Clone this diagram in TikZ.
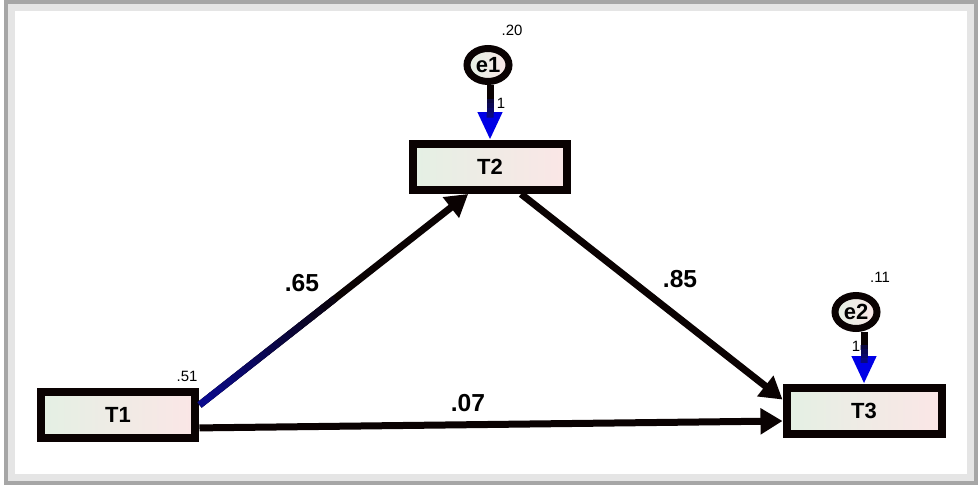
\documentclass[tikz,border=0pt]{standalone}
\usepackage{fontspec}
\setmainfont{Liberation Sans}
\usetikzlibrary{arrows.meta,calc,shapes.geometric}
\definecolor{Ink}{HTML}{0A0202}
\definecolor{Navy}{HTML}{0A0A8C}
\definecolor{Path}{HTML}{0000E6}
\definecolor{Mint}{HTML}{E4F0E4}
\definecolor{Blush}{HTML}{FBE6E6}

\begin{document}
\begin{tikzpicture}[
  x=0.02cm, y=-0.02cm,
  obs/.style={draw=Ink, line width=0.16cm, left color=Mint, right color=Blush,
              minimum width=3.1cm, minimum height=0.92cm, inner sep=0pt,
              font=\fontsize{12.5}{14}\selectfont\bfseries},
  err/.style={draw=Ink, line width=0.14cm, ellipse, left color=Mint, right color=Blush,
              minimum width=0.84cm, minimum height=0.66cm, inner sep=0pt,
              font=\fontsize{12.5}{14}\selectfont\bfseries},
  pth/.style={-{Triangle[length=0.44cm, width=0.5cm]}, draw=Ink, line width=0.14cm},
  ept/.style={-{Triangle[length=0.56cm, width=0.46cm, color=Path]}, draw=Ink, line width=0.14cm},
  coef/.style={font=\fontsize{14}{16}\selectfont\bfseries, inner sep=1pt},
  var/.style={font=\fontsize{8.5}{10}\selectfont, inner sep=1pt}]

\useasboundingbox (0,0) rectangle (979,486);

% frame with soft shadow
\draw[gray!20, line width=0.2cm] (10,6) rectangle (972,479);
\draw[gray!70, line width=0.07cm] (6,2) rectangle (976,483);

% observed variables
\node[obs] (T1) at (118,415) {T1};
\node[obs] (T2) at (490,167) {T2};
\node[obs] (T3) at (864,411) {T3};

% error terms
\node[err] (e1) at (488,65) {e1};
\node[err] (e2) at (856,312) {e2};

% structural paths
\draw[pth] (T1.7) -- (T2.231);
\foreach \i in {0,...,11}
  \pgfmathsetmacro{\mix}{100-\i*8}
  \draw[Navy!\mix!Ink, line width=0.14cm]
    ($(T1.7)!{\i/24}!(T2.231)$) -- ($(T1.7)!{(\i+1.1)/24}!(T2.231)$);
\draw[pth] (T2.319) -- (T3.172);
\draw[pth] (T1.351) -- (T3.187);

\node[coef] at (302,283) {.65};
\node[coef] at (680,279) {.85};
\node[coef] at (468,403) {.07};

% error paths
\draw[ept] (T2.north |- e1.south) -- (T2.north);
\foreach \i in {3,...,6}
  \pgfmathsetmacro{\mix}{\i*15}
  \draw[Navy!\mix!Ink, line width=0.14cm]
    ($(T2.north |- e1.south)!{\i/12}!(T2.north)$) -- ($(T2.north |- e1.south)!{(\i+1.1)/12}!(T2.north)$);
\draw[ept] (T3.north |- e2.south) -- (T3.north);
\foreach \i in {3,...,6}
  \pgfmathsetmacro{\mix}{\i*15}
  \draw[Navy!\mix!Ink, line width=0.14cm]
    ($(T3.north |- e2.south)!{\i/12}!(T3.north)$) -- ($(T3.north |- e2.south)!{(\i+1.1)/12}!(T3.north)$);

% variances and fixed loadings
\node[var] at (512,30) {.20};
\node[var] at (880,277) {.11};
\node[var] at (187,376) {.51};
\node[var] at (501,103) {1};
\node[var] at (856,346) {1};
\end{tikzpicture}
\end{document}
